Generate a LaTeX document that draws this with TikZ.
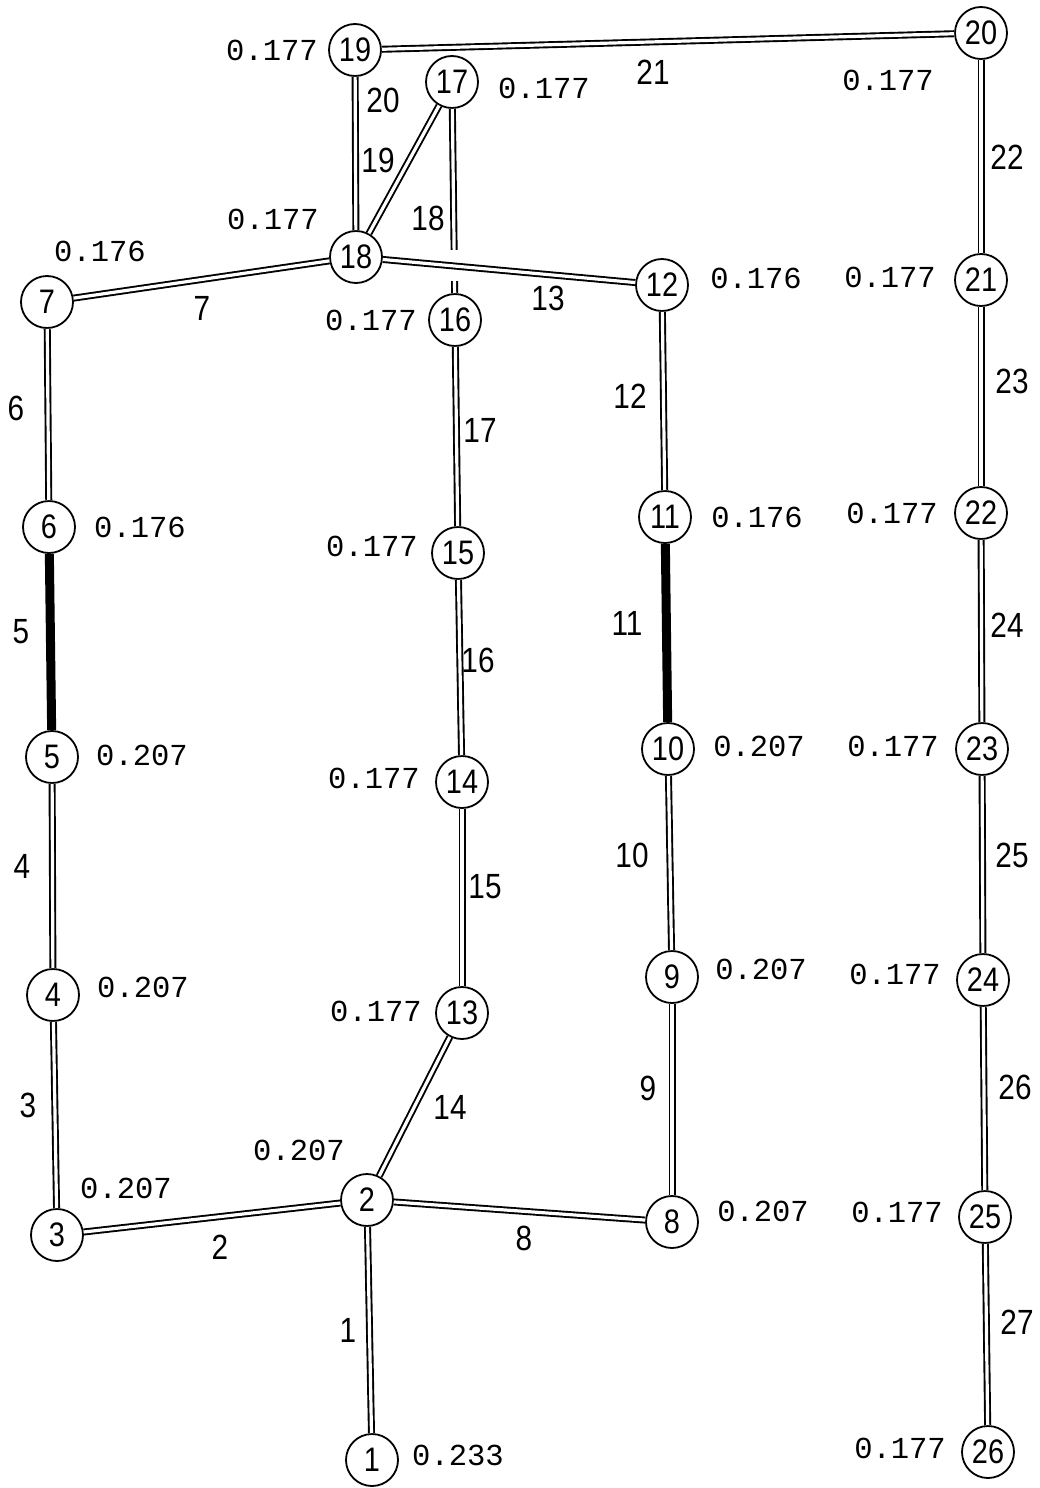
\documentclass[tikz,border=0pt]{standalone}
\usepackage{fontspec}
\setmainfont{Liberation Sans}
\newfontfamily\numfont[FakeStretch=0.85]{Liberation Sans}
\newfontfamily\valfont{Liberation Mono}
\usetikzlibrary{calc}
\tikzset{
  nd/.style={circle, draw, line width=1.8pt, fill=white, minimum size=52pt, inner sep=0pt,
    font=\numfont\fontsize{34}{34}\selectfont},
  pipe/.style={draw, line width=1.9pt, double=white, double distance=3.2pt},
  heavy/.style={draw, line width=9pt},
  elab/.style={inner sep=0pt, font=\numfont\fontsize{35}{35}\selectfont},
  vlab/.style={inner sep=0pt, font=\valfont\fontsize{30.5}{30.5}\selectfont},
}
\begin{document}
\begin{tikzpicture}[x=1pt, y=-1pt]
\useasboundingbox[fill=white] (0,0) rectangle (1040,1488);
% nodes
\node[nd] (n1) at (372,1460) {1};
\node[nd] (n2) at (367,1200) {2};
\node[nd] (n3) at (57,1235) {3};
\node[nd] (n4) at (53,995) {4};
\node[nd] (n5) at (52,757) {5};
\node[nd] (n6) at (49,527) {6};
\node[nd] (n7) at (47,302) {7};
\node[nd] (n8) at (672,1222) {8};
\node[nd] (n9) at (672,977) {9};
\node[nd] (n10) at (668,749) {10};
\node[nd] (n11) at (665,517) {11};
\node[nd] (n12) at (662,285) {12};
\node[nd] (n13) at (462,1013) {13};
\node[nd] (n14) at (462,782) {14};
\node[nd] (n15) at (458,553) {15};
\node[nd] (n16) at (455,320) {16};
\node[nd] (n17) at (452,82) {17};
\node[nd] (n18) at (356,257) {18};
\node[nd] (n19) at (355,50) {19};
\node[nd] (n20) at (981,33) {20};
\node[nd] (n21) at (981,280) {21};
\node[nd] (n22) at (981,513) {22};
\node[nd] (n23) at (982,749) {23};
\node[nd] (n24) at (983,980) {24};
\node[nd] (n25) at (985,1217) {25};
\node[nd] (n26) at (988,1452) {26};
% edges
\path[pipe] (n2) -- (n1);
\path[pipe] (n3) -- (n2);
\path[pipe] (n3) -- (n4);
\path[pipe] (n4) -- (n5);
\path[heavy] (n5) -- (n6);
\path[pipe] (n6) -- (n7);
\path[pipe] (n7) -- (n18);
\path[pipe] (n2) -- (n8);
\path[pipe] (n8) -- (n9);
\path[pipe] (n9) -- (n10);
\path[heavy] (n10) -- (n11);
\path[pipe] (n11) -- (n12);
\path[pipe] (n2) -- (n13);
\path[pipe] (n13) -- (n14);
\path[pipe] (n14) -- (n15);
\path[pipe] (n15) -- (n16);
\path[pipe] (n17) -- (n16);
\coordinate (cross) at ($(n18)!0.32!(n12)$);
\fill[white] ($(cross)+(-8,-16)$) rectangle ($(cross)+(8,15)$);
\path[pipe] (n18) -- (n12);
\path[pipe] (n18) -- (n17);
\path[pipe] (n18) -- (n19);
\path[pipe] (n19) -- (n20);
\path[pipe] (n20) -- (n21);
\path[pipe] (n21) -- (n22);
\path[pipe] (n22) -- (n23);
\path[pipe] (n23) -- (n24);
\path[pipe] (n24) -- (n25);
\path[pipe] (n25) -- (n26);
% edge labels
\node[elab] (e1) at (348,1330) {1};
\node[elab] (e2) at (220,1247) {2};
\node[elab] (e3) at (28,1105) {3};
\node[elab] (e4) at (22,866) {4};
\node[elab] (e5) at (21,632) {5};
\node[elab] (e6) at (16,408) {6};
\node[elab] (e7) at (202,308) {7};
\node[elab] (e8) at (524,1238) {8};
\node[elab] (e9) at (648,1088) {9};
\node[elab] (e10) at (632,855) {10};
\node[elab] (e11) at (627,623) {11};
\node[elab] (e12) at (630,396) {12};
\node[elab] (e13) at (548,298) {13};
\node[elab] (e14) at (450,1107) {14};
\node[elab] (e15) at (485,887) {15};
\node[elab] (e16) at (478,660) {16};
\node[elab] (e17) at (480,430) {17};
\node[elab] (e18) at (428,218) {18};
\node[elab] (e19) at (378,160) {19};
\node[elab] (e20) at (383,100) {20};
\node[elab] (e21) at (653,72) {21};
\node[elab] (e22) at (1007,157) {22};
\node[elab] (e23) at (1012,381) {23};
\node[elab] (e24) at (1007,625) {24};
\node[elab] (e25) at (1012,855) {25};
\node[elab] (e26) at (1015,1087) {26};
\node[elab] (e27) at (1017,1322) {27};
% values
\node[vlab] (v1) at (458,1455) {0.233};
\node[vlab] (v2) at (299,1150) {0.207};
\node[vlab] (v3) at (126,1188) {0.207};
\node[vlab] (v4) at (143,987) {0.207};
\node[vlab] (v5) at (142,755) {0.207};
\node[vlab] (v6) at (140,527) {0.176};
\node[vlab] (v7) at (100,251) {0.176};
\node[vlab] (v8) at (763,1211) {0.207};
\node[vlab] (v9) at (761,969) {0.207};
\node[vlab] (v10) at (759,746) {0.207};
\node[vlab] (v11) at (757,517) {0.176};
\node[vlab] (v12) at (756,278) {0.176};
\node[vlab] (v13) at (376,1011) {0.177};
\node[vlab] (v14) at (374,778) {0.177};
\node[vlab] (v15) at (372,546) {0.177};
\node[vlab] (v16) at (371,320) {0.177};
\node[vlab] (v17) at (544,88) {0.177};
\node[vlab] (v18) at (273,219) {0.177};
\node[vlab] (v19) at (272,50) {0.177};
\node[vlab] (v20) at (888,80) {0.177};
\node[vlab] (v21) at (890,277) {0.177};
\node[vlab] (v22) at (892,513) {0.177};
\node[vlab] (v23) at (893,746) {0.177};
\node[vlab] (v24) at (895,974) {0.177};
\node[vlab] (v25) at (897,1212) {0.177};
\node[vlab] (v26) at (900,1448) {0.177};
\end{tikzpicture}
\end{document}
